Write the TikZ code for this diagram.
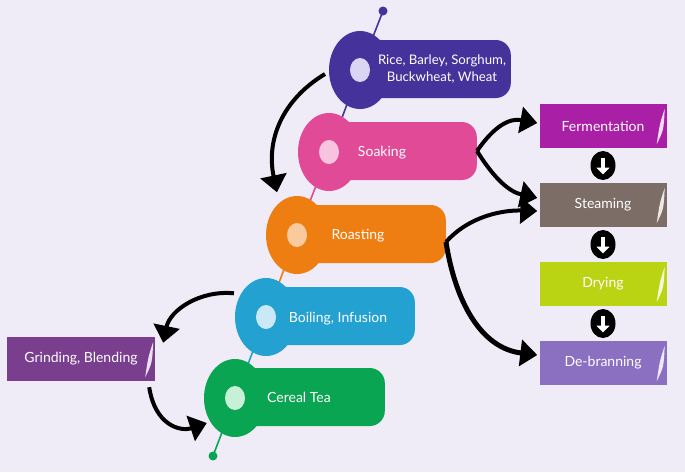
\documentclass[tikz,border=0pt]{standalone}
\usepackage{fontspec}
\setmainfont{Lato}
\usetikzlibrary{shapes.geometric,arrows.meta,calc}
\definecolor{bg}{HTML}{EFECF8}
\definecolor{cTop}{HTML}{45339B}
\definecolor{cSoak}{HTML}{E04A97}
\definecolor{cRoast}{HTML}{EE7E12}
\definecolor{cBoil}{HTML}{23A1D1}
\definecolor{cTea}{HTML}{0AA553}
\definecolor{cFerm}{HTML}{A91FA6}
\definecolor{cSteam}{HTML}{7C6D66}
\definecolor{cDry}{HTML}{BAD313}
\definecolor{cDeb}{HTML}{8B6FC1}
\definecolor{cGrind}{HTML}{7A3E8F}
\definecolor{iTop}{HTML}{D9D5F2}
\definecolor{iSoak}{HTML}{F8C3DE}
\definecolor{iRoast}{HTML}{FACA9C}
\definecolor{iBoil}{HTML}{C9E9F6}
\definecolor{iTea}{HTML}{C6F1D6}
\tikzset{
  headshape/.style={ellipse, minimum width=62pt, minimum height=78pt, inner sep=0pt},
  bodyshape/.style={rectangle, rounded corners=15pt, minimum height=58pt, inner sep=0pt, anchor=east},
  innerdot/.style={ellipse, minimum width=20pt, minimum height=24pt, inner sep=0pt},
  label/.style={text=white, font=\fontsize{14}{17}\selectfont, align=center},
  stepbox/.style={rectangle, minimum width=127pt, minimum height=44pt, inner sep=0pt, text=white, font=\fontsize{14}{17}\selectfont},
  stemline/.style={line width=1.6pt},
  enddot/.style={circle, minimum size=9pt, inner sep=0pt},
  bigarrow/.style={line width=4pt, -{Triangle[length=17pt, width=26pt]}},
  downcirc/.style={ellipse, fill=black, minimum width=25pt, minimum height=29pt, inner sep=0pt},
  curl/.style={fill=white, opacity=0.85}
}
\begin{document}
\begin{tikzpicture}[x=1pt, y=-1pt]
\fill[bg] (0,0) rectangle (685,472);
\useasboundingbox (0,0) rectangle (685,472);

% head centres
\coordinate (tc) at (360,70);
\coordinate (sc) at (329,152);
\coordinate (rc) at (297,235);
\coordinate (bc) at (266,317);
\coordinate (cc) at (235,398);
\node[enddot, fill=cTop] (dtop) at (383,11) {};
\node[enddot, fill=cTea] (dbot) at (213,456) {};

% stem
\draw[stemline, cTop] (dtop.center) -- (tc);
\draw[stemline, cTop] (tc) -- (sc);
\draw[stemline, cSoak] (sc) -- (rc);
\draw[stemline, cRoast] (rc) -- (bc);
\draw[stemline, cBoil] (bc) -- (cc);
\draw[stemline, cTea] (cc) -- (dbot.center);

% top node
\node[bodyshape, fill=cTop, minimum width=150pt] (tbody) at (511,69) {};
\node[headshape, fill=cTop] (thead) at (tc) {};
\node[innerdot, fill=iTop] (tin) at (tc) {};
\node[label, font=\fontsize{13.2}{17}\selectfont] (ttext) at (442,69) {Rice, Barley, Sorghum,\\Buckwheat, Wheat};

% soaking
\node[bodyshape, fill=cSoak, minimum width=148pt] (sbody) at (477,151) {};
\node[headshape, fill=cSoak] (shead) at (sc) {};
\node[innerdot, fill=iSoak] (sin) at (sc) {};
\node[label] (stext) at (382,153) {Soaking};

% roasting
\node[bodyshape, fill=cRoast, minimum width=149pt] (rbody) at (446,234) {};
\node[headshape, fill=cRoast] (rhead) at (rc) {};
\node[innerdot, fill=iRoast] (rin) at (rc) {};
\node[label] (rtext) at (358,236) {Roasting};

% boiling
\node[bodyshape, fill=cBoil, minimum width=149pt] (bbody) at (415,316) {};
\node[headshape, fill=cBoil] (bhead) at (bc) {};
\node[innerdot, fill=iBoil] (bin) at (bc) {};
\node[label] (btext) at (338,319) {Boiling, Infusion};

% cereal tea
\node[bodyshape, fill=cTea, minimum width=150pt] (cbody) at (385,397) {};
\node[headshape, fill=cTea] (chead) at (cc) {};
\node[innerdot, fill=iTea] (cin) at (cc) {};
\node[label] (ctext) at (299,397) {Cereal Tea};

% right column boxes
\node[stepbox, fill=cFerm] (ferm) at (603,126) {Fermentation};
\node[stepbox, fill=cSteam] (steam) at (603,205) {Steaming};
\node[stepbox, fill=cDry] (dry) at (603,284) {Drying};
\node[stepbox, fill=cDeb] (deb) at (603,363) {De-branning};
\node[stepbox, fill=cGrind, minimum width=148pt] (grind) at (81,359) {Grinding, Blending};

% page curls
\foreach \b in {ferm,steam,dry,deb,grind}{
  \fill[curl] ($(\b.north east)+(-2,5)$) .. controls ($(\b.east)+(-7,-2)$) .. ($(\b.south east)+(-10,-4)$)
     .. controls ($(\b.east)+(-3,4)$) .. cycle;
}

% down circles
\foreach \a/\b/\n in {ferm/steam/d1,steam/dry/d2,dry/deb/d3}{
  \node[downcirc] (\n) at ($(\a.south)!0.5!(\b.north)$) {};
  \draw[white, line width=4pt, -{Triangle[length=7pt, width=13pt]}] ([yshift=8pt]\n.center) -- ([yshift=-9pt]\n.center);
}

% curved arrows
\draw[bigarrow] ([xshift=-35pt,yshift=-4pt]thead.center) .. controls (282,100) and (266,140) .. ([xshift=2pt,yshift=15pt]rhead.north west);
\draw[bigarrow] (sbody.east) .. controls (495,125) and (510,118) .. ([xshift=-2pt,yshift=3pt]ferm.west);
\draw[bigarrow] (sbody.east) .. controls (495,180) and (510,192) .. ([xshift=-2pt,yshift=7pt]steam.west);
\draw[bigarrow] ([yshift=-8pt]rbody.east) .. controls (470,215) and (505,210) .. ([xshift=-2pt,yshift=-6pt]steam.west);
\draw[bigarrow, line width=5pt] ([yshift=-8pt]rbody.east) .. controls (455,300) and (480,348) .. ([xshift=-2pt,yshift=8pt]deb.west);
\draw[bigarrow] ([xshift=-10pt,yshift=-4pt]bhead.north west) .. controls (200,290) and (170,310) .. ([xshift=8pt,yshift=-6pt]grind.north east);
\draw[bigarrow] ([xshift=-6pt,yshift=-6pt]grind.south east) .. controls (155,425) and (180,432) .. ([xshift=3pt,yshift=-25pt]chead.west);
\end{tikzpicture}
\end{document}
